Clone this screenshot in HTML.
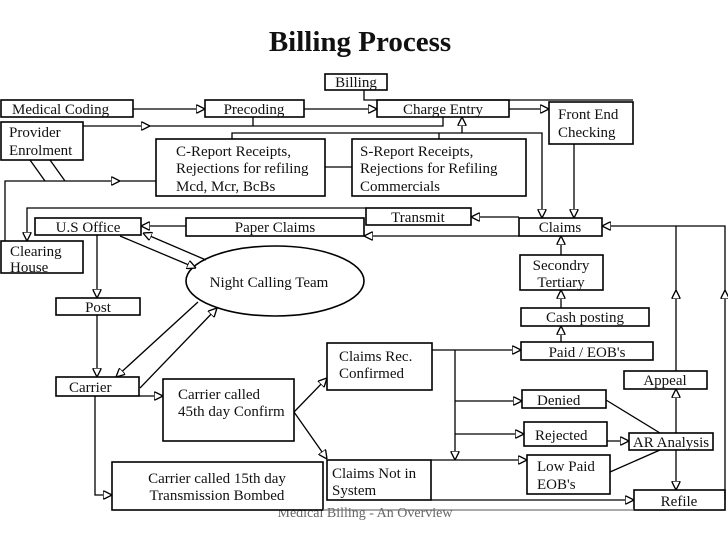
<!DOCTYPE html>
<html><head><meta charset="utf-8"><style>
html,body{margin:0;padding:0;background:#fff;}
svg{display:block;}
text{font-family:"Liberation Serif",serif;font-size:15px;fill:#111;}
</style></head><body>
<svg width="728" height="546" viewBox="0 0 728 546" xmlns="http://www.w3.org/2000/svg">
<defs>
<marker id="a" viewBox="0 0 10 10" refX="10" refY="5" markerWidth="9" markerHeight="9" markerUnits="userSpaceOnUse" orient="auto">
<path d="M0,0 L10,5 L0,10 z" fill="#fff" stroke="#000" stroke-width="1.5"/>
</marker>
</defs>
<text x="360" y="51" text-anchor="middle" style="font-size:29px;font-weight:bold;">Billing Process</text>
<text x="365" y="517" text-anchor="middle" style="font-size:14px;fill:#666;">Medical Billing - An Overview</text>
<g fill="#fff" stroke="#000" stroke-width="1.6">
<rect x="325" y="74" width="62" height="16"/>
<rect x="1" y="100" width="132" height="17"/>
<rect x="205" y="100" width="99" height="17"/>
<rect x="377" y="100" width="132" height="17"/>
<rect x="549" y="102" width="84" height="42"/>
<rect x="1" y="122" width="82" height="38"/>
<rect x="156" y="139" width="169" height="57"/>
<rect x="352" y="139" width="174" height="57"/>
<rect x="366" y="208" width="105" height="17"/>
<rect x="186" y="218" width="178" height="18"/>
<rect x="35" y="218" width="106" height="17"/>
<rect x="1" y="241" width="82" height="32"/>
<rect x="519" y="218" width="83" height="18"/>
<rect x="520" y="255" width="83" height="35"/>
<ellipse cx="275" cy="281" rx="89" ry="35"/>
<rect x="56" y="298" width="84" height="17"/>
<rect x="521" y="308" width="128" height="18"/>
<rect x="521" y="342" width="132" height="18"/>
<rect x="327" y="343" width="105" height="47"/>
<rect x="56" y="377" width="83" height="19"/>
<rect x="163" y="379" width="131" height="62"/>
<rect x="624" y="371" width="83" height="18"/>
<rect x="522" y="390" width="84" height="18"/>
<rect x="524" y="422" width="83" height="24"/>
<rect x="629" y="433" width="84" height="17"/>
<rect x="527" y="455" width="83" height="39"/>
<rect x="112" y="462" width="211" height="48"/>
<rect x="327" y="460" width="104" height="40"/>
<rect x="634" y="490" width="91" height="20"/>
</g>
<g fill="none" stroke="#000" stroke-width="1.3">
<path d="M364 90V100H633"/>
<path d="M133 109H205" marker-end="url(#a)"/>
<path d="M304 109H377" marker-end="url(#a)"/>
<path d="M509 109H549" marker-end="url(#a)"/>
<path d="M83 126H150" marker-end="url(#a)"/>
<path d="M150 126H443V117M253 117V126"/>
<path d="M232 139V133H542V218" marker-end="url(#a)"/>
<path d="M462 133V117" marker-end="url(#a)"/>
<path d="M439 139V133"/>
<path d="M325 167H352"/>
<path d="M30 160L45 181M50 160L65 181"/>
<path d="M5 241V181H120" marker-end="url(#a)"/>
<path d="M120 181H156"/>
<path d="M574 144V218" marker-end="url(#a)"/>
<path d="M519 217H471" marker-end="url(#a)"/>
<path d="M366 208H27V241" marker-end="url(#a)"/>
<path d="M519 236H364" marker-end="url(#a)"/>
<path d="M186 226H141" marker-end="url(#a)"/>
<path d="M97 235V298" marker-end="url(#a)"/>
<path d="M120 236L196 268" marker-end="url(#a)"/>
<path d="M206 260L143 233" marker-end="url(#a)"/>
<path d="M97 315V377" marker-end="url(#a)"/>
<path d="M198 302L116 377" marker-end="url(#a)"/>
<path d="M140 388L217 308" marker-end="url(#a)"/>
<path d="M139 396H163" marker-end="url(#a)"/>
<path d="M95 396V495H112" marker-end="url(#a)"/>
<path d="M294 412L327 378" marker-end="url(#a)"/>
<path d="M294 412L327 459" marker-end="url(#a)"/>
<path d="M432 350H521" marker-end="url(#a)"/>
<path d="M455 350V460" marker-end="url(#a)"/>
<path d="M455 401H522" marker-end="url(#a)"/>
<path d="M455 434H524" marker-end="url(#a)"/>
<path d="M431 460H527" marker-end="url(#a)"/>
<path d="M431 500H634" marker-end="url(#a)"/>
<path d="M323 510H634" stroke="#777"/>
<path d="M607 441H629" marker-end="url(#a)"/>
<path d="M606 400L660 433M610 472L660 450"/>
<path d="M676 433V389" marker-end="url(#a)"/>
<path d="M676 450V490" marker-end="url(#a)"/>
<path d="M676 371V290" marker-end="url(#a)"/>
<path d="M676 290V226"/>
<path d="M725 500V290" marker-end="url(#a)"/>
<path d="M725 290V226H602" marker-end="url(#a)"/>
<path d="M561 255V236" marker-end="url(#a)"/>
<path d="M561 308V290" marker-end="url(#a)"/>
<path d="M561 342V326" marker-end="url(#a)"/>
</g>
<text x="356" y="87" text-anchor="middle">Billing</text>
<text x="12" y="114">Medical Coding</text>
<text x="254" y="114" text-anchor="middle">Precoding</text>
<text x="443" y="114" text-anchor="middle">Charge Entry</text>
<text x="558" y="119">Front End</text>
<text x="558" y="137">Checking</text>
<text x="9" y="137">Provider</text>
<text x="9" y="155">Enrolment</text>
<text x="176" y="156">C-Report Receipts,</text>
<text x="176" y="173">Rejections for refiling</text>
<text x="176" y="191">Mcd, Mcr, BcBs</text>
<text x="360" y="156">S-Report Receipts,</text>
<text x="360" y="173">Rejections for Refiling</text>
<text x="360" y="191">Commercials</text>
<text x="418" y="222" text-anchor="middle">Transmit</text>
<text x="275" y="232" text-anchor="middle">Paper Claims</text>
<text x="88" y="232" text-anchor="middle">U.S Office</text>
<text x="10" y="256">Clearing</text>
<text x="10" y="272">House</text>
<text x="560" y="232" text-anchor="middle">Claims</text>
<text x="561" y="270" text-anchor="middle">Secondry</text>
<text x="561" y="287" text-anchor="middle">Tertiary</text>
<text x="269" y="287" text-anchor="middle">Night Calling Team</text>
<text x="98" y="312" text-anchor="middle">Post</text>
<text x="585" y="322" text-anchor="middle">Cash posting</text>
<text x="587" y="357" text-anchor="middle">Paid / EOB's</text>
<text x="339" y="361">Claims  Rec.</text>
<text x="339" y="378">Confirmed</text>
<text x="69" y="392">Carrier</text>
<text x="178" y="399">Carrier called</text>
<text x="178" y="416">45th day Confirm</text>
<text x="665" y="385" text-anchor="middle">Appeal</text>
<text x="537" y="405">Denied</text>
<text x="535" y="440">Rejected</text>
<text x="671" y="447" text-anchor="middle">AR Analysis</text>
<text x="537" y="471">Low Paid</text>
<text x="537" y="489">EOB's</text>
<text x="217" y="483" text-anchor="middle">Carrier called 15th day</text>
<text x="217" y="500" text-anchor="middle">Transmission Bombed</text>
<text x="332" y="478">Claims Not in</text>
<text x="332" y="495">System</text>
<text x="679" y="506" text-anchor="middle">Refile</text>
</svg>
</body></html>
